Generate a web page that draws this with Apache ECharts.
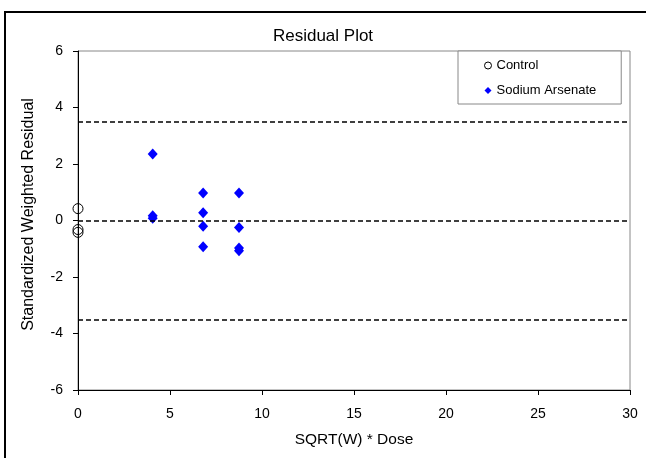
<!DOCTYPE html>
<html>
<head>
<meta charset="utf-8">
<script src="https://cdn.jsdelivr.net/npm/echarts@6/dist/echarts.min.js"></script>
<style>
  html, body { margin: 0; padding: 0; background: #fff; }
  #chart { width: 646px; height: 458px; }
</style>
</head>
<body>
<div id="chart"></div>
<script>
// Residuals by group
const controlX = [0, 0, 0];
const controlY = [0.42, -0.32, -0.42];
const arsenateX = [4.06, 4.06, 4.06, 6.8, 6.8, 6.8, 6.8, 8.75, 8.75, 8.75, 8.75];
const arsenateY = [2.35, 0.17, 0.08, 0.97, 0.27, -0.2, -0.93, 0.97, -0.25, -0.97, -1.07];
// Reference lines (±3.5 limits and zero)
const refLines = [3.5, 0, -3.5];
// Axis ranges
const xTicks = { min: 0, max: 30, interval: 5 };
const yTicks = { min: -6, max: 6, interval: 2 };

const font = 'Liberation Sans, Arial, sans-serif';
const zip = (xs, ys) => xs.map((x, i) => [x, ys[i]]);

const chart = echarts.init(document.getElementById('chart'), null, { renderer: 'canvas' });
chart.setOption({
  animation: false,
  backgroundColor: '#fff',
  textStyle: { fontFamily: font, color: '#000' },
  title: {
    text: 'Residual Plot',
    left: 'center',
    top: 23,
    textStyle: { fontFamily: font, fontSize: 17, fontWeight: 'normal', color: '#000' }
  },
  graphic: [{
    type: 'rect',
    shape: { x: 5, y: 12, width: 720, height: 520 },
    style: { fill: 'none', stroke: '#000', lineWidth: 2 },
    silent: true
  }],
  legend: {
    orient: 'vertical',
    left: 458,
    top: 51,
    padding: [8, 25, 7, 26],
    itemGap: 12,
    itemWidth: 7,
    itemHeight: 7,
    borderColor: '#888',
    borderWidth: 1,
    backgroundColor: '#fff',
    textStyle: { fontFamily: font, fontSize: 13, color: '#000' },
    data: [
      { name: 'Control', icon: 'circle', itemStyle: { color: '#fff', borderColor: '#000', borderWidth: 1 } },
      { name: 'Sodium Arsenate', icon: 'diamond' }
    ]
  },
  grid: { left: 78, right: 16, top: 51, bottom: 68, show: true, borderColor: '#888', borderWidth: 1 },
  xAxis: {
    type: 'value',
    min: xTicks.min, max: xTicks.max, interval: xTicks.interval,
    name: 'SQRT(W) * Dose',
    nameLocation: 'middle',
    nameGap: 42,
    nameTextStyle: { fontFamily: font, fontSize: 15.5, color: '#000' },
    axisLine: { show: true, onZero: false, lineStyle: { color: '#000', width: 1 } },
    axisTick: { show: true, inside: false, length: 5, lineStyle: { color: '#000' } },
    axisLabel: { fontFamily: font, fontSize: 14, color: '#000', margin: 17 },
    splitLine: { show: false }
  },
  yAxis: {
    type: 'value',
    min: yTicks.min, max: yTicks.max, interval: yTicks.interval,
    name: 'Standardized Weighted Residual',
    nameLocation: 'middle',
    nameGap: 41,
    nameTextStyle: { fontFamily: font, fontSize: 16, color: '#000', padding: [0, 0, 0, 12] },
    axisLine: { show: true, onZero: false, lineStyle: { color: '#000', width: 1 } },
    axisTick: { show: true, inside: false, length: 5, lineStyle: { color: '#000' } },
    axisLabel: { fontFamily: font, fontSize: 14, color: '#000', margin: 15 },
    splitLine: { show: false }
  },
  series: [
    {
      name: 'Sodium Arsenate',
      type: 'scatter',
      symbol: 'diamond',
      symbolSize: [10, 11],
      itemStyle: { color: '#0000ff', opacity: 1 },
      data: zip(arsenateX, arsenateY),
      z: 3,
      markLine: {
        silent: true,
        symbol: ['none', 'none'],
        label: { show: false },
        lineStyle: { color: '#000', type: [5, 3], width: 1.5 },
        data: refLines.map(v => ({ yAxis: v }))
      }
    },
    {
      name: 'Control',
      type: 'scatter',
      symbol: 'circle',
      symbolSize: 10,
      itemStyle: { color: 'rgba(0,0,0,0)', borderColor: '#000', borderWidth: 1, opacity: 1 },
      data: zip(controlX, controlY),
      z: 4
    }
  ]
});
</script>
</body>
</html>
